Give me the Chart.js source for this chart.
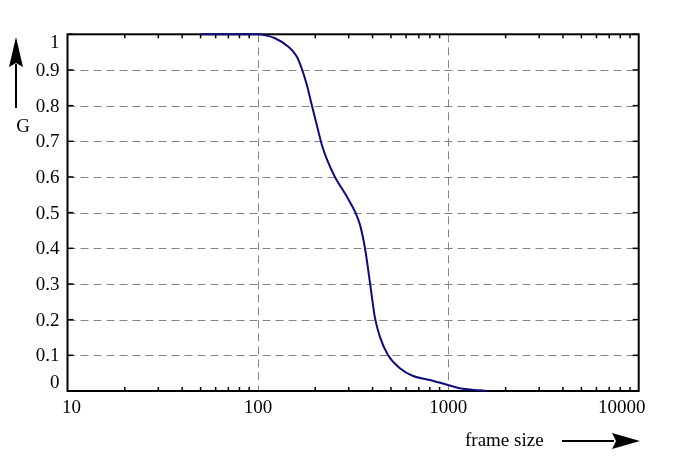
<!DOCTYPE html>
<html>
<head>
<meta charset="utf-8">
<script src="https://cdn.jsdelivr.net/npm/chart.js@4.4.1/dist/chart.umd.min.js"></script>
<style>
  html, body { margin: 0; padding: 0; background: #fff; }
  #wrap { width: 690px; height: 461px; }
</style>
</head>
<body>
<div id="wrap"><canvas id="chart" width="690" height="461"></canvas></div>
<script>
// frame size (log axis) vs G
const frameSize = [50, 60, 70, 80, 90, 100, 110, 123, 144, 160, 170, 181, 192, 204, 217, 231, 254, 294, 324, 344, 365, 388, 412, 438, 482, 557, 653, 801, 995, 1194, 1466, 1600];
const gValues = [1, 1, 1, 1, 1, 1, 0.997, 0.989, 0.966, 0.938, 0.904, 0.857, 0.801, 0.745, 0.689, 0.648, 0.600, 0.544, 0.502, 0.465, 0.401, 0.303, 0.205, 0.151, 0.101, 0.064, 0.042, 0.031, 0.017, 0.006, 0.002, 0];

const xMajor = [10, 100, 1000, 10000];
const xMajorLabels = ["10", "100", "1000", "10000"];
const yTicks = [0, 0.1, 0.2, 0.3, 0.4, 0.5, 0.6, 0.7, 0.8, 0.9, 1];
const yTickLabels = ["0", "0.1", "0.2", "0.3", "0.4", "0.5", "0.6", "0.7", "0.8", "0.9", "1"];
const xLabel = "frame size";
const yLabel = "G";

const FONT = '19px "Liberation Serif", "DejaVu Serif", serif';

const framePlugin = {
  id: "frame",
  beforeDatasetsDraw(chart) {
    const { ctx, chartArea: a, scales: { x, y } } = chart;
    ctx.save();
    // dashed grid
    ctx.strokeStyle = "#858585";
    ctx.lineWidth = 1;
    ctx.setLineDash([8, 5]);
    yTicks.forEach(v => {
      if (v === 0 || v === 1) return;
      const py = Math.round(y.getPixelForValue(v)) + 0.5;
      ctx.beginPath(); ctx.moveTo(a.left, py); ctx.lineTo(a.right, py); ctx.stroke();
    });
    xMajor.forEach(v => {
      if (v === 10 || v === 10000) return;
      const px = Math.round(x.getPixelForValue(v)) + 0.5;
      ctx.beginPath(); ctx.moveTo(px, a.top); ctx.lineTo(px, a.bottom); ctx.stroke();
    });
    ctx.setLineDash([]);

    ctx.strokeStyle = "#000";
    // minor ticks on bottom and top
    ctx.lineWidth = 1.5;
    for (let d = 10; d < 10000; d *= 10) {
      for (let m = 2; m <= 9; m++) {
        const px = x.getPixelForValue(d * m);
        ctx.beginPath(); ctx.moveTo(px, a.bottom); ctx.lineTo(px, a.bottom - 4); ctx.stroke();
        ctx.beginPath(); ctx.moveTo(px, a.top); ctx.lineTo(px, a.top + 4); ctx.stroke();
      }
    }
    // y ticks on left and right
    yTicks.forEach(v => {
      const py = y.getPixelForValue(v);
      ctx.beginPath(); ctx.moveTo(a.left, py); ctx.lineTo(a.left + 6, py); ctx.stroke();
      ctx.beginPath(); ctx.moveTo(a.right, py); ctx.lineTo(a.right - 6, py); ctx.stroke();
    });

    // frame
    ctx.lineWidth = 2;
    ctx.strokeRect(a.left, a.top, a.right - a.left, a.bottom - a.top);
    ctx.restore();
  },
  afterDatasetsDraw(chart) {
    const { ctx, chartArea: a, scales: { x, y } } = chart;
    ctx.save();
    ctx.strokeStyle = "#000";
    ctx.fillStyle = "#000";

    // tick labels
    ctx.font = FONT;
    ctx.textBaseline = "middle";
    ctx.textAlign = "right";
    yTicks.forEach((v, i) => {
      let py = y.getPixelForValue(v);
      if (v === 1) py += 8;
      if (v === 0) py -= 9;
      ctx.fillText(yTickLabels[i], a.left - 8, py + 1);
    });
    ctx.textAlign = "center";
    xMajor.forEach((v, i) => {
      let px = x.getPixelForValue(v);
      if (v === 10) px += 4;
      if (v === 10000) px -= 17;
      ctx.fillText(xMajorLabels[i], px, a.bottom + 17);
    });

    // x axis title with arrow
    ctx.textAlign = "left";
    ctx.fillText(xLabel, 465, 441);
    ctx.lineWidth = 2;
    ctx.beginPath(); ctx.moveTo(562, 441); ctx.lineTo(614, 441); ctx.stroke();
    ctx.beginPath();
    ctx.moveTo(640, 441); ctx.lineTo(612, 433); ctx.lineTo(616, 441); ctx.lineTo(612, 449);
    ctx.closePath(); ctx.fill();

    // y axis title with arrow
    ctx.beginPath(); ctx.moveTo(16, 108); ctx.lineTo(16, 64); ctx.stroke();
    ctx.beginPath();
    ctx.moveTo(16, 37); ctx.lineTo(9, 67); ctx.lineTo(16, 63); ctx.lineTo(23, 67);
    ctx.closePath(); ctx.fill();
    ctx.textAlign = "center";
    ctx.fillText(yLabel, 23, 127);

    ctx.restore();
  }
};

new Chart(document.getElementById("chart"), {
  type: "line",
  data: {
    datasets: [{
      data: frameSize.map((f, i) => ({ x: f, y: gValues[i] })),
      borderColor: "#0c0c7a",
      borderWidth: 2,
      pointRadius: 0,
      fill: false,
      cubicInterpolationMode: "monotone",
      clip: false
    }]
  },
  options: {
    responsive: false,
    animation: false,
    devicePixelRatio: 1,
    layout: { padding: { left: 67.5, right: 51.3, top: 34.3, bottom: 70 } },
    plugins: { legend: { display: false }, tooltip: { enabled: false } },
    scales: {
      x: { type: "logarithmic", min: 10, max: 10000, display: false },
      y: { type: "linear", min: 0, max: 1, display: false }
    }
  },
  plugins: [framePlugin]
});
</script>
</body>
</html>
